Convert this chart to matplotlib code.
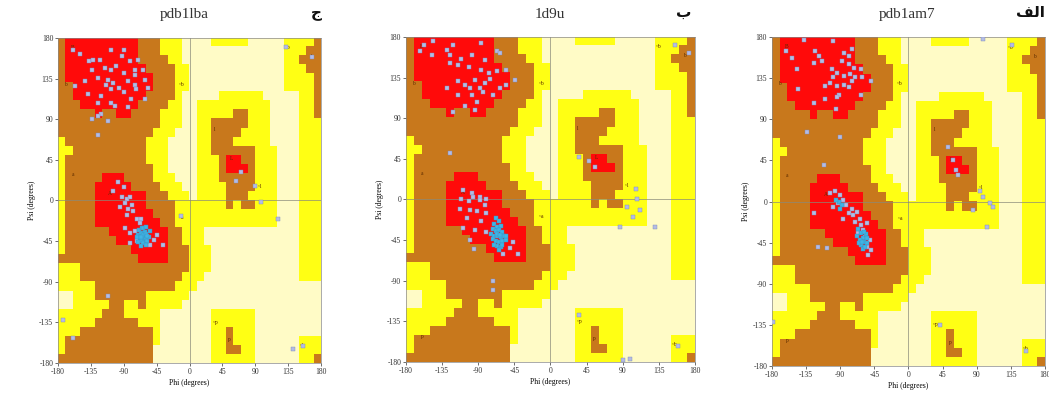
import numpy as np
import matplotlib.pyplot as plt
from matplotlib.colors import ListedColormap

# Mapa de regiones de Ramachandran (celdas de 10 grados), fila 0 = psi 180, col 0 = phi -180
# R = core, B = allowed, Y = generous, . = disallowed
region_rows = [
    "BRRRRRRRRRRBBBYYY....YYYYY.....YYYYB",
    "BRRRRRRRRRRBBBYYY..............YYYBB",
    "BRRRRRRRRRRBBBBYY..............YYBBB",
    "BRRRRRRRRRRRBBBBYY.............YYYBB",
    "BRRRRRRRRRRRRBBBYY.............YYYYB",
    "BBRRRRRRRRRRRBBBYY.............YYYYB",
    "BBRRRRRRRRRRBBBBY.....YYYYYY.....YYB",
    "BBBRRRRRRRRBBBBYY..YYYYYYYYYY....YYB",
    "BBBBBRBBRRBBBBYYY..YYYYYBBYYY....YYB",
    "BBBBBBBBBBBBBBYYY..YYBBBBBYYY....YYY",
    "BBBBBBBBBBBBBYYY...YYBBBBYYYY....YYY",
    "YBBBBBBBBBBBYYY....YYBBBYYYYY....YYY",
    "YYBBBBBBBBBBYYY....YYBBBBBBYYY...YYY",
    "YBBBBBBBBBBBYYY....YYYBRRBBYYY...YYY",
    "YBBBBBBBBBBBBYY....YYYBRRRBYYY...YYY",
    "YBBBBBRRRBBBBYYY...YYYBBBBBYYY...YYY",
    "YBBBBRRRRRBBBBYYY..YYYYBBBBYYY...YYY",
    "YBBBBRRRRRRRBBBYYY.YYYYBBBYYYY...YYY",
    "YBBBBRRRRRRRBBBBYYYYYYYBYBBYYY...YYY",
    "YBBBBRRRRRRRRBBBYYYYYYYYYYYYYY...YYY",
    "YBBBBRRRRRRRRRBBYYYYYYYYYYYYYY...YYY",
    "YBBBBBBRRRRRRRRBBYYY.............YYY",
    "YBBBBBBBRRRRRRRBBYYY.............YYY",
    "YBBBBBBBBBRRRRRBBBYYY............YYY",
    "BBBBBBBBBBBRRRRBBBYYY............YYY",
    "YYYBBBBBBBBBBBBBBBYYY............YYY",
    "YYYBBBBBBBBBBBBBBYYY.............YYY",
    "YYYYYBBBBBBBBBBBYYY.................",
    "..YYYBBBBBBBYYYYYY..................",
    "..YYYYYBBYYBYYYYY...................",
    "YYYYYYBBBYYYYY.......YYYYYY.........",
    "YYYYYBBBBBBYYY.......YYYYYY.........",
    "YYYBBBBBBBBBBY.......YYBYYY.........",
    "YBBBBBBBBBBBBY.......YYBYYY......YYY",
    "YBBBBBBBBBBBB........YYBBYY......YYY",
    "BBBBBBBBBBBBB........YYYYYY......YYB",
]
codes = {'.': 0, 'Y': 1, 'B': 2, 'R': 3}
region_colors = ['#fffbc6', '#ffff14', '#c8781c', '#ff0a0a']

# etiquetas de región (texto, phi, psi)
region_labels = [('B', -160, 170), ('b', -169, 129), ('A', -109, 8), ('a', -160, 29),
                 ('L', 57, 46), ('l', 34, 79), ('~b', -11, 129), ('~a', -11, -19),
                 ('~l', 96, 15), ('p', -160, -152), ('~p', 36, -135), ('p', 55, -154),
                 ('~b', 135, 169), ('b', 168, 159), ('~b', 155, -161)]

titles = ['pdb1lba', '1d9u', 'pdb1am7']
letters = ['\u062c', '\u0628', '\ufed2\ufedf\ufe8d']
ticks = [-180, -135, -90, -45, 0, 45, 90, 135, 180]

# pdb1lba
lba_points = [(-159, 167), (-150, 162), (-137, 154), (-132, 156), (-123, 156), (-107, 167),
              (-89, 167), (-93, 160), (-82, 154), (-70, 156), (-75, 145), (-134, 145),
              (-116, 147), (-107, 145), (-100, 149), (-89, 141), (-75, 139), (-64, 145),
              (-143, 132), (-125, 136), (-111, 134), (-114, 128), (-105, 130), (-96, 125),
              (-84, 132), (-75, 128), (-61, 134), (-157, 127), (-139, 118), (-121, 116),
              (-107, 123), (-89, 120), (-73, 123), (-57, 125), (-125, 108), (-107, 108),
              (-102, 105), (-80, 112), (-61, 112), (-121, 96), (-84, 103), (-134, 90),
              (-111, 88), (-125, 94), (-125, 72),
              (-93, 4), (-86, 2), (-82, 4), (-88, -3), (-95, -7), (-84, -9), (-79, -5),
              (-77, -12), (-86, -16), (-72, -21), (-66, -20), (-68, -25), (-88, -31),
              (-81, -36), (-75, -34), (-49, -44), (-81, -47), (-72, -45), (-45, -38),
              (-36, -49), (-54, -49), (-105, 10), (-90, 15), (-98, 20),
              (64, 22), (70, 31), (89, 16), (98, -2), (121, -21), (141, -165), (155, -161),
              (132, 170), (168, 159), (-173, -132), (-160, -152), (-11, -17), (-112, -106)]
lba_helix = [(-70, -38), (-68, -42), (-66, -36), (-64, -44), (-62, -40), (-60, -42), (-67, -45),
             (-63, -47), (-58, -45), (-61, -35), (-69, -33), (-65, -30), (-72, -40), (-60, -49),
             (-56, -40), (-66, -50), (-70, -46), (-63, -38), (-59, -37), (-67, -41), (-63, -31),
             (-59, -29), (-54, -34), (-58, -39)]

# 1d9u
d9u_points = [(-158, 171), (-146, 175), (-163, 164), (-148, 160), (-129, 166), (-125, 160),
              (-121, 171), (-111, 156), (-98, 160), (-86, 173), (-82, 154), (-67, 164),
              (-63, 162), (-125, 151), (-115, 149), (-102, 147), (-86, 143), (-77, 140),
              (-67, 142), (-55, 143), (-129, 123), (-115, 131), (-107, 127), (-100, 123),
              (-94, 132), (-88, 123), (-82, 129), (-75, 134), (-63, 123), (-55, 127),
              (-44, 132), (-115, 116), (-98, 116), (-84, 119), (-71, 116), (-92, 108),
              (-107, 103), (-94, 99), (-121, 97),
              (-109, 11), (-98, 7), (-88, 3), (-80, 1), (-111, 1), (-102, -2), (-96, 3),
              (-88, -1), (-82, -6), (-113, -10), (-100, -12), (-92, -13), (-80, -15),
              (-104, -21), (-86, -24), (-109, -32), (-94, -34), (-80, -36), (-47, -47),
              (-51, -54), (-40, -60), (-59, -60), (-125, 51), (-100, -45), (-95, -55),
              (-71, -90), (-71, -100),
              (107, 12), (111, -12), (103, -19), (95, -8), (86, -30), (130, -30), (108, 0),
              (36, 47), (48, 43), (56, 36), (36, -128), (90, -178), (99, -177),
              (159, -162), (155, 171), (172, 162)]
d9u_helix = [(-68, -20), (-64, -24), (-70, -27), (-66, -30), (-62, -29), (-72, -33), (-68, -35),
             (-64, -34), (-60, -36), (-74, -38), (-70, -40), (-66, -41), (-62, -42), (-58, -40),
             (-72, -44), (-68, -46), (-64, -47), (-60, -46), (-56, -45), (-66, -51), (-62, -53),
             (-60, -50), (-64, -56), (-70, -50), (-67, -38), (-63, -39), (-55, -41)]

# pdb1am7
am7_points = [(-162, 165), (-138, 177), (-154, 157), (-147, 145), (-123, 165), (-118, 159),
              (-125, 152), (-114, 154), (-99, 176), (-85, 163), (-79, 159), (-74, 167),
              (-88, 154), (-79, 150), (-72, 146), (-63, 145), (-101, 145), (-94, 141),
              (-99, 136), (-85, 137), (-77, 139), (-70, 136), (-61, 136), (-50, 132),
              (-110, 126), (-103, 130), (-94, 126), (-85, 128), (-74, 132), (-79, 125),
              (-92, 117), (-94, 114), (-63, 117), (-145, 123), (-125, 108), (-96, 101),
              (-110, 112), (-134, 76), (-90, 71), (-112, 40), (-125, -13), (-119, -50),
              (-108, -51),
              (-104, 9), (-97, 11), (-90, 7), (-86, 2), (-93, -2), (-82, -4), (-75, -8),
              (-79, -13), (-73, -15), (-68, -11), (-64, -19), (-71, -22), (-62, -26),
              (-55, -24), (-60, -31), (-66, -35), (-57, -39), (-51, -42), (-62, -46),
              (-55, -50), (-49, -53), (-53, -59), (-99, -6), (-86, -19),
              (52, 60), (59, 45), (63, 34), (66, 29), (94, 12), (98, 5), (107, -2),
              (85, -9), (103, -28), (112, -6), (98, 178), (136, 171), (-178, -132),
              (155, -164), (41, -135)]
am7_helix = [(-66, -30), (-63, -35), (-60, -40), (-58, -44), (-64, -42), (-56, -36), (-62, -48),
             (-54, -45), (-68, -38), (-60, -52), (-57, -50), (-65, -45), (-92, 0), (-88, -4),
             (-95, 2), (-90, -8), (-59, -33), (-61, -44), (-55, -40)]

panel_points = [lba_points, d9u_points, am7_points]
panel_helix = [lba_helix, d9u_helix, am7_helix]

grid = np.array([[codes[c] for c in row] for row in region_rows])
cmap = ListedColormap(region_colors)

fig = plt.figure(figsize=(10.49, 4.01), dpi=100)
axes_pos = [[0.0553, 0.0948, 0.2507, 0.8105],
            [0.3870, 0.0973, 0.2755, 0.8105],
            [0.7359, 0.0873, 0.2602, 0.8204]]
title_x = [0.176, 0.524, 0.865]
letter_x = [0.302, 0.652, 0.982]
serif = 'Liberation Serif'

for k in range(3):
    ax = fig.add_axes(axes_pos[k])
    ax.imshow(grid, cmap=cmap, vmin=0, vmax=3, extent=[-180, 180, -180, 180],
              origin='upper', aspect='auto', interpolation='nearest')
    ax.axhline(0, color='#8a8a7a', lw=0.5)
    ax.axvline(0, color='#8a8a7a', lw=0.5)
    for txt, ph, ps in region_labels:
        ax.text(ph, ps, txt, fontsize=4, color='#5a2a00', family=serif,
                ha='center', va='center')
    p = np.array(panel_points[k])
    h = np.array(panel_helix[k])
    ax.scatter(p[:, 0], p[:, 1], s=6, marker='s', color='#b4bce4',
               edgecolors='#7c88b8', linewidths=0.3, zorder=3)
    ax.scatter(h[:, 0], h[:, 1], s=8, marker='s', color='#40b4e4',
               edgecolors='#3890c0', linewidths=0.3, zorder=4)
    ax.set_xlim(-180, 180)
    ax.set_ylim(-180, 180)
    ax.set_xticks(ticks)
    ax.set_yticks(ticks)
    ax.set_xticklabels([str(t) for t in ticks], fontsize=5.5, family=serif)
    ax.set_yticklabels([str(t) for t in ticks], fontsize=5.5, family=serif)
    ax.tick_params(length=2, width=0.5, pad=1.5, colors='#333333')
    for s in ax.spines.values():
        s.set_linewidth(0.5)
        s.set_color('#888888')
    ax.set_xlabel('Phi (degrees)', fontsize=5.5, family=serif, labelpad=2)
    ax.set_ylabel('Psi (degrees)', fontsize=5.5, family=serif, labelpad=2)
    fig.text(title_x[k], 0.965, titles[k], fontsize=11, family=serif,
             ha='center', va='center', color='#333333')
    fig.text(letter_x[k], 0.968, letters[k], fontsize=11, family='DejaVu Sans',
             weight='bold', ha='center', va='center', color='#111111')

fig.savefig('out.png', dpi=100)
